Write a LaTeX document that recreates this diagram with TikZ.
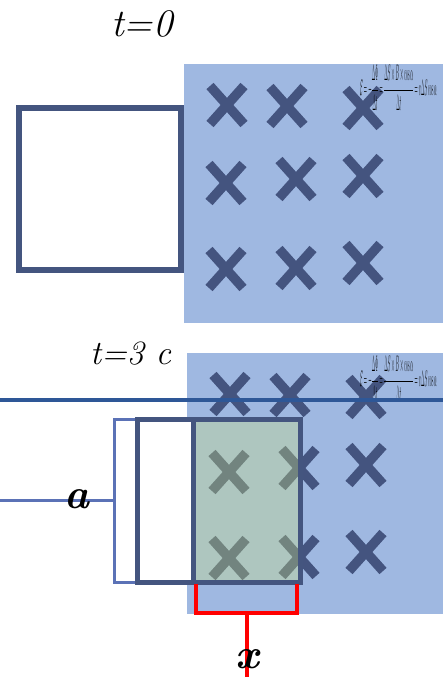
\documentclass[tikz,border=0pt]{standalone}
\usepackage{amsmath}
\usepackage{graphicx}
\definecolor{fieldblue}{HTML}{9FB8E1}
\definecolor{crossblue}{HTML}{44547F}
\definecolor{loopblue}{HTML}{44557F}
\definecolor{lineblue}{HTML}{2E5797}
\definecolor{bracketblue}{HTML}{5B72B6}
\definecolor{greenover}{RGB}{203,226,128}
\definecolor{pureRed}{HTML}{FF0000}
\tikzset{
  field/.style={fill=fieldblue},
  xmark/.style={line width=9.5pt, color=crossblue},
  loopline/.style={draw=loopblue, line width=6pt},
  bracketline/.style={draw=bracketblue, line width=3pt},
  fieldline/.style={draw=lineblue, line width=3.5pt},
  redline/.style={draw=pureRed, line width=4pt},
  greenfill/.style={fill=greenover, fill opacity=0.34},
  titletext/.style={inner sep=0pt, font=\fontsize{39}{44}\selectfont\itshape},
  labeltext/.style={inner sep=0pt, font=\fontsize{42}{46}\selectfont\bfseries\itshape},
  formula/.style={inner sep=0pt, anchor=east}
}
\newcommand{\xmarkat}[2]{\draw[xmark] (#1-17,#2-19) -- (#1+17,#2+19) (#1-17,#2+19) -- (#1+17,#2-19);}
\newcommand{\emfformula}{\scalebox{0.25}[1.3]{\fontsize{18}{20}\selectfont$\displaystyle\mathcal{E}=-\frac{\Delta\Phi}{\Delta t}=\frac{\Delta S\times B\times\cos\alpha}{\Delta t}=v\Delta S\cos\alpha$}}
\begin{document}
\begin{tikzpicture}[x=1pt,y=-1pt]
\useasboundingbox (0,0) rectangle (443,677);
\fill[white] (0,0) rectangle (443,677);
% ---------- t = 0 ----------
\fill[field] (184,64) rectangle (443,323);
\foreach \cx/\cy in {227/105,287/106,363/108,226/183,296/179,363/176,226/269,296/268,363/263}
  {\xmarkat{\cx}{\cy}}
\node[formula] (f1) at (437,88) {\emfformula};
\draw[loopline] (19,108) rectangle (181,270);
\node[titletext, anchor=base west] (t0) at (111,37) {t=0};
% ---------- t = 3 c ----------
\fill[field] (187,353) rectangle (443,614);
\foreach \cx/\cy in {230/394,290/395,366/397,229/472,299/468,366/465,229/558,299/557,366/552}
  {\xmarkat{\cx}{\cy}}
\node[formula] (f2) at (437,379) {\emfformula};
\node[titletext, anchor=base west, font=\fontsize{34}{38}\selectfont\itshape] (t3) at (90,364) {t=3 c};
\coordinate (hl) at (0,400);
\coordinate (hr) at (443,400);
\draw[fieldline] (hl) -- (hr);
% bracket a
\coordinate (bt) at (136,419);
\coordinate (bb) at (136,582);
\coordinate (bl) at (114,500);
\coordinate (al) at (0,500);
\draw[bracketline] (bt) -- (114,419) -- (114,582) -- (bb);
\draw[bracketline] (bl) -- (al);
\node[labeltext] (a) at (77,499) {a};
% loop
\fill[white] (137,419) rectangle (193,582);
\fill[greenfill] (193,419) rectangle (300,582);
\draw[loopline, line width=5pt] (137,419) rectangle (300,582);
\draw[loopline, line width=5pt] (193,419) -- (193,582);
% red bracket x
\coordinate (rl) at (196,584);
\coordinate (rr) at (297,584);
\coordinate (rs) at (246.5,613);
\coordinate (re) at (246.5,677);
\draw[redline] (rl) -- (196,613) -- (297,613) -- (rr);
\draw[redline] (rs) -- (re);
\node[labeltext] (x) at (247,659) {x};
\end{tikzpicture}
\end{document}
